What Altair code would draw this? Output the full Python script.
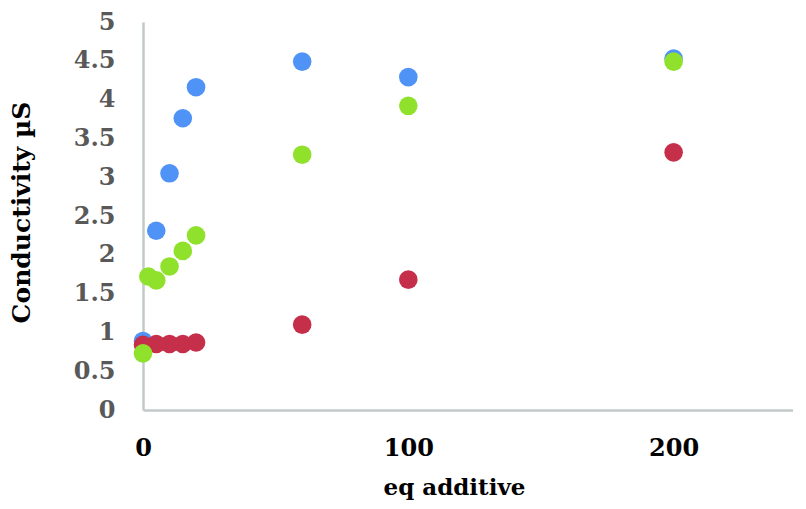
import altair as alt
import pandas as pd

# Data
x_blue = [0, 5, 10, 15, 20, 60, 100, 200]
y_blue = [0.89, 2.31, 3.05, 3.76, 4.16, 4.49, 4.29, 4.53]

x_red = [0, 5, 10, 15, 20, 60, 100, 200]
y_red = [0.84, 0.85, 0.85, 0.85, 0.87, 1.10, 1.68, 3.32]

x_green = [0, 2, 5, 10, 15, 20, 60, 100, 200]
y_green = [0.73, 1.72, 1.67, 1.85, 2.05, 2.25, 3.29, 3.92, 4.49]

series_names = ["Series 1", "Series 2", "Series 3"]
series_colors = ["#4F93F6", "#C62F4A", "#8FE12B"]

x_ticks = [0, 100, 200]
y_ticks = [0, 0.5, 1, 1.5, 2, 2.5, 3, 3.5, 4, 4.5, 5]

rows = []
for name, xs, ys in zip(series_names, [x_blue, x_red, x_green], [y_blue, y_red, y_green]):
    for xv, yv in zip(xs, ys):
        rows.append({"x": xv, "y": yv, "series": name})
df = pd.DataFrame(rows)

FONT = "DejaVu Serif"
AXIS_COLOR = "#C2C9C8"

chart = (
    alt.Chart(df)
    .mark_circle(size=346, opacity=1)
    .encode(
        x=alt.X(
            "x:Q",
            scale=alt.Scale(domain=[0, 245], nice=False, zero=False),
            axis=alt.Axis(
                values=x_ticks,
                format="d",
                title="eq additive",
                grid=False,
                ticks=False,
                labelFlush=False,
                labelOverlap=False,
                domainColor=AXIS_COLOR,
                domainWidth=2.5,
                labelFont=FONT,
                labelFontSize=24,
                labelFontWeight="bold",
                labelColor="#000000",
                labelPadding=26,
                titleFont=FONT,
                titleFontSize=23,
                titleFontWeight="bold",
                titleColor="#000000",
                titleX=311,
                titleY=84,
                titleBaseline="alphabetic",
            ),
        ),
        y=alt.Y(
            "y:Q",
            scale=alt.Scale(domain=[0, 5], nice=False),
            axis=alt.Axis(
                values=y_ticks,
                format="~g",
                title="Conductivity µS",
                grid=False,
                ticks=False,
                labelFlush=False,
                labelOverlap=False,
                domainColor=AXIS_COLOR,
                domainWidth=2.5,
                labelFont=FONT,
                labelFontSize=24,
                labelFontWeight="bold",
                labelColor="#595959",
                labelPadding=28,
                titleFont=FONT,
                titleFontSize=25,
                titleFontWeight="bold",
                titleColor="#000000",
                titleX=-122,
                titleY=190,
                titleBaseline="middle",
            ),
        ),
        color=alt.Color(
            "series:N",
            scale=alt.Scale(domain=series_names, range=series_colors),
            legend=None,
        ),
    )
    .properties(
        width=650,
        height=388,
        autosize=alt.AutoSizeParams(type="none"),
        padding={"left": 135, "top": 14, "right": 0, "bottom": 91},
    )
    .configure_view(stroke=None)
)

chart.save("out.html", embed_options={"renderer": "svg", "actions": False})
